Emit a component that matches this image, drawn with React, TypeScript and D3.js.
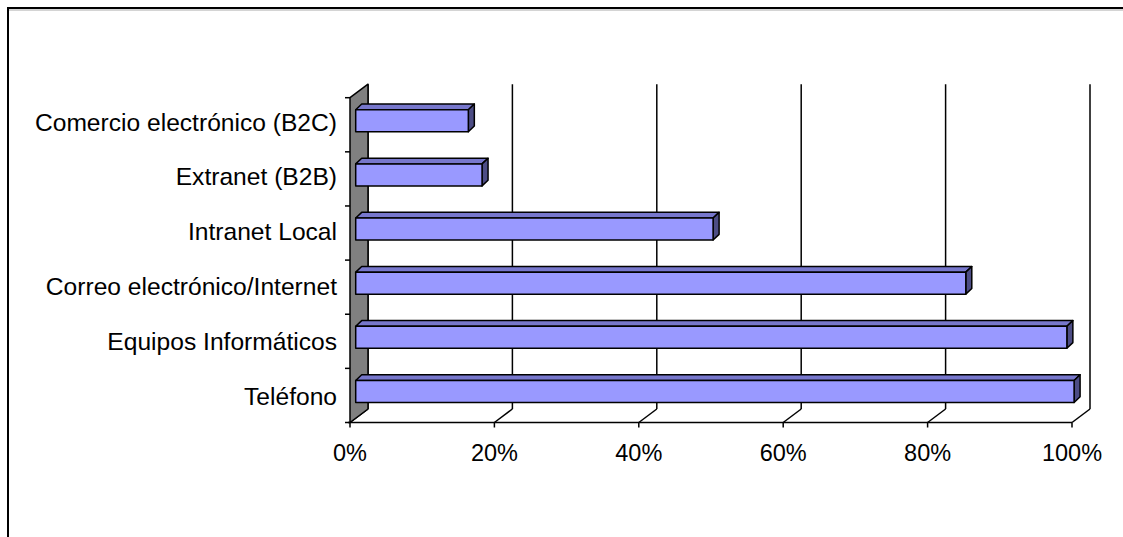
import React from "react";
import * as d3 from "d3";

const categories = [
  "Comercio electrónico (B2C)",
  "Extranet (B2B)",
  "Intranet Local",
  "Correo electrónico/Internet",
  "Equipos Informáticos",
  "Teléfono",
];
const values = [15.6, 17.5, 49.5, 84.5, 98.5, 99.5];
const xTicks = [0, 20, 40, 60, 80, 100];

export default function App() {
  const W = 1123;
  const H = 537;
  const x = d3.scaleLinear().domain([0, 100]).range([350, 1072]);
  const y = d3.scaleBand<string>().domain(categories).range([97.7, 422.5]).padding(0);
  const labelY = d3.scalePoint<string>().domain(categories).range([122.5, 397]);
  const wallDx = 18;
  const wallDy = -13.5;
  const barOffX = 5.7;
  const barOffY = -4;
  const barDx = 6;
  const barDy = -5.7;
  const barH = 22;
  const top = y.range()[0];
  const bottom = y.range()[1];
  const font = "Liberation Sans, Arial, sans-serif";
  const fs = 23.5;
  const lfs = 24.6;

  return (
    <svg width={W} height={H} style={{ position: "absolute", left: 0, top: 0, background: "#fff" }}>
      {/* chart border */}
      <rect x={8} y={8} width={1300} height={700} fill="none" stroke="#000" strokeWidth={2} />
      <line x1={9} y1={10} x2={1123} y2={10} stroke="#aaa" strokeWidth={1} />

      {/* back wall gridlines, floor edges, ticks and labels */}
      {xTicks.map((t) => (
        <g key={"g" + t}>
          <line x1={x(t) + wallDx} y1={top + wallDy} x2={x(t) + wallDx} y2={bottom + wallDy} stroke="#000" strokeWidth={1.5} />
          <line x1={x(t)} y1={bottom} x2={x(t) + wallDx} y2={bottom + wallDy} stroke="#000" strokeWidth={1.5} />
          <line x1={x(t)} y1={bottom} x2={x(t)} y2={bottom + 5} stroke="#000" strokeWidth={1.5} />
          <text x={x(t)} y={bottom + 38} textAnchor="middle" fontFamily={font} fontSize={fs} fill="#000">
            {t + "%"}
          </text>
        </g>
      ))}

      {/* side wall */}
      <polygon
        points={`${x(0)},${top} ${x(0) + wallDx},${top + wallDy} ${x(0) + wallDx},${bottom + wallDy} ${x(0)},${bottom}`}
        fill="#808080"
        stroke="#000"
        strokeWidth={1.5}
        strokeLinejoin="round"
      />
      {/* floor front edge */}
      <line x1={x(0) - 2} y1={bottom} x2={x(100)} y2={bottom} stroke="#000" strokeWidth={1.5} />

      {/* category ticks */}
      {[...categories.map((c) => y(c) as number), bottom].map((v, i) => (
        <line key={"t" + i} x1={x(0) - 5} y1={v} x2={x(0)} y2={v} stroke="#000" strokeWidth={1.5} />
      ))}

      {/* bars */}
      {categories.map((c, i) => {
        const cy = (y(c) as number) + y.bandwidth() / 2 + barOffY;
        const y0 = cy - barH / 2;
        const y1 = cy + barH / 2;
        const x0 = x(0) + barOffX;
        const x1 = x(values[i]) + barOffX;
        return (
          <g key={c} stroke="#000" strokeWidth={1.5} strokeLinejoin="round">
            <polygon points={`${x0},${y0} ${x1},${y0} ${x1 + barDx},${y0 + barDy} ${x0 + barDx},${y0 + barDy}`} fill="#7777CC" />
            <polygon points={`${x1},${y0} ${x1 + barDx},${y0 + barDy} ${x1 + barDx},${y1 + barDy} ${x1},${y1}`} fill="#4D4D85" />
            <rect x={x0} y={y0} width={x1 - x0} height={y1 - y0} fill="#9999FF" />
          </g>
        );
      })}

      {/* category labels */}
      {categories.map((c) => (
        <text
          key={"l" + c}
          x={337}
          y={(labelY(c) as number) + 8}
          textAnchor="end"
          fontFamily={font}
          fontSize={lfs}
          fill="#000"
        >
          {c}
        </text>
      ))}
    </svg>
  );
}
